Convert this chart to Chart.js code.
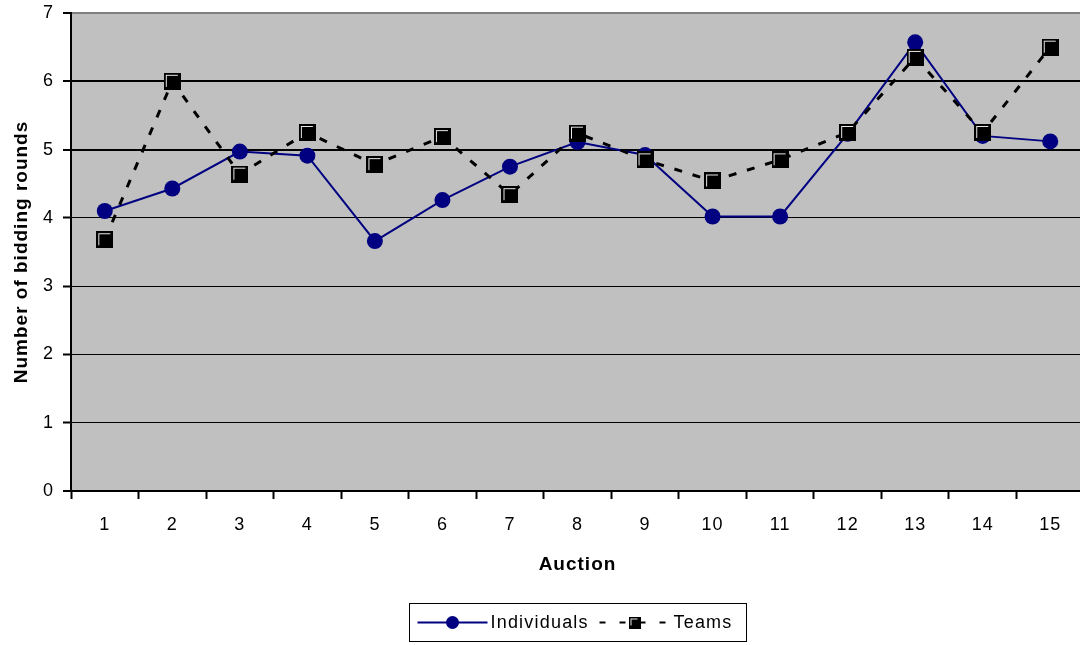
<!DOCTYPE html>
<html>
<head>
<meta charset="utf-8">
<script src="https://cdn.jsdelivr.net/npm/chart.js@4/dist/chart.umd.min.js"></script>
<style>
  html, body { margin: 0; padding: 0; background: #fff; overflow: hidden; }
  #wrap { width: 1084px; height: 645px; }
</style>
</head>
<body>
<div id="wrap"><canvas id="c" width="1084" height="645"></canvas></div>
<script>
const categories = ['1','2','3','4','5','6','7','8','9','10','11','12','13','14','15'];
const individuals = [4.10, 4.43, 4.97, 4.91, 3.66, 4.26, 4.75, 5.11, 4.92, 4.02, 4.02, 5.23, 6.57, 5.20, 5.12];
const teams = [3.68, 6.00, 4.64, 5.25, 4.78, 5.19, 4.34, 5.24, 4.85, 4.54, 4.85, 5.25, 6.35, 5.25, 6.50];
const seriesNames = ['Individuals', 'Teams'];
const yTicks = [0, 1, 2, 3, 4, 5, 6, 7];

const FONT = "'Liberation Sans', Arial, sans-serif";

function squareMarker(size) {
  const c = document.createElement('canvas');
  c.width = size; c.height = size;
  const g = c.getContext('2d');
  g.fillStyle = '#000';
  g.fillRect(0, 0, size, size);
  g.fillStyle = '#e8e8e8';
  g.fillRect(2, 2, 1, size - 5);
  g.fillRect(2, 2, size - 5, 1);
  return c;
}
const sq17 = squareMarker(17);

const spacingPlugin = {
  id: 'spacing',
  beforeUpdate(chart) { chart.ctx.letterSpacing = '1px'; },
  beforeDraw(chart) { chart.ctx.letterSpacing = '1px'; }
};

const legendPlugin = {
  id: 'boxLegend',
  afterDraw(chart) {
    const ctx = chart.ctx;
    const ca = chart.chartArea;
    const cx = (ca.left + ca.right) / 2;
    const bx = Math.round(cx - 169) + 0.5, by = 603.5, bw = 337, bh = 38;
    const my = by + bh / 2;
    ctx.save();
    ctx.letterSpacing = '1.2px';
    ctx.strokeStyle = '#000';
    ctx.lineWidth = 1;
    ctx.setLineDash([]);
    ctx.strokeRect(bx, by, bw, bh);
    const ds = chart.data.datasets;
    // Individuals
    let x0 = bx + 8;
    ctx.strokeStyle = ds[0].borderColor;
    ctx.lineWidth = 2;
    ctx.beginPath(); ctx.moveTo(x0, my); ctx.lineTo(x0 + 70, my); ctx.stroke();
    ctx.fillStyle = ds[0].pointBackgroundColor;
    ctx.beginPath(); ctx.arc(x0 + 35, my, 6.5, 0, Math.PI * 2); ctx.fill();
    ctx.fillStyle = '#000';
    ctx.font = '18px ' + FONT;
    ctx.textBaseline = 'middle';
    ctx.textAlign = 'left';
    ctx.fillText(ds[0].label, x0 + 73, my + 1);
    // Teams
    let x1 = bx + 190;
    ctx.strokeStyle = '#000';
    ctx.lineWidth = 2;
    ctx.setLineDash([6, 14]);
    ctx.beginPath(); ctx.moveTo(x1, my); ctx.lineTo(x1 + 70, my); ctx.stroke();
    ctx.setLineDash([]);
    const s = squareMarker(12);
    ctx.drawImage(s, x1 + 35 - 6, my - 6);
    ctx.fillStyle = '#000';
    ctx.fillText(ds[1].label, x1 + 74, my + 1);
    ctx.restore();
  }
};

new Chart(document.getElementById('c'), {
  type: 'line',
  data: {
    labels: categories,
    datasets: [
      {
        label: seriesNames[0],
        data: individuals,
        borderColor: '#000080',
        backgroundColor: '#000080',
        pointBackgroundColor: '#000080',
        pointBorderColor: '#000080',
        borderWidth: 2,
        pointRadius: 8,
        pointBorderWidth: 0,
        pointStyle: 'circle',
        tension: 0,
        order: 1
      },
      {
        label: seriesNames[1],
        data: teams,
        borderColor: '#000000',
        backgroundColor: '#000000',
        pointBackgroundColor: '#000000',
        borderWidth: 3,
        borderDash: [8, 11],
        pointStyle: sq17,
        pointRadius: 8.5,
        tension: 0,
        order: 0
      }
    ]
  },
  options: {
    responsive: false,
    animation: false,
    events: [],
    layout: { autoPadding: false, padding: { top: 13, right: 0, bottom: 64, left: 0 } },
    plugins: {
      legend: { display: false },
      tooltip: { enabled: false }
    },
    scales: {
      x: {
        type: 'category',
        offset: true,
        afterFit(scale) {
          scale.height = 90;
          scale.paddingLeft = 0; scale.paddingRight = 0;
          scale.paddingTop = 0; scale.paddingBottom = 0;
        },
        border: { display: true, color: '#000', width: 2 },
        grid: {
          offset: true,
          drawOnChartArea: false,
          drawTicks: true,
          tickLength: 8,
          tickWidth: 2,
          tickColor: '#000'
        },
        ticks: {
          color: '#000',
          font: { family: FONT, size: 18 },
          padding: 15,
          maxRotation: 0,
          autoSkip: false
        },
        title: {
          display: true,
          text: 'Auction',
          color: '#000',
          font: { family: FONT, size: 19, weight: 'bold' },
          padding: { top: 0, bottom: 5 }
        }
      },
      y: {
        min: 0,
        max: 7,
        afterFit(scale) {
          scale.width = 71;
          scale.paddingTop = 0; scale.paddingBottom = 0;
          scale.paddingLeft = 0; scale.paddingRight = 0;
        },
        afterBuildTicks(scale) { scale.ticks = yTicks.map(v => ({ value: v })); },
        border: { display: true, color: '#000', width: 2 },
        grid: {
          color: (c) => (c.tick && c.tick.value === 7) ? '#808080' : '#000',
          lineWidth: (c) => {
            if (!c.tick) return 1;
            const v = c.tick.value;
            if (v === 7 || v === 5 || v === 6) return 2;
            if (v === 0) return 0;
            return 1;
          },
          tickLength: 8,
          tickWidth: 2,
          tickColor: '#000'
        },
        ticks: {
          color: '#000',
          font: { family: FONT, size: 18 },
          padding: 9,
          stepSize: 1
        },
        title: {
          display: true,
          text: 'Number of bidding rounds',
          color: '#000',
          font: { family: FONT, size: 19, weight: 'bold' },
          padding: { top: 10, bottom: 0 }
        }
      }
    }
  },
  plugins: [spacingPlugin, legendPlugin, {
    id: 'plotBg',
    beforeDraw(chart) {
      const { ctx, chartArea: a } = chart;
      ctx.save();
      ctx.fillStyle = '#c0c0c0';
      ctx.fillRect(a.left, a.top, a.right - a.left, a.bottom - a.top);
      ctx.restore();
    }
  }]
});
</script>
</body>
</html>
